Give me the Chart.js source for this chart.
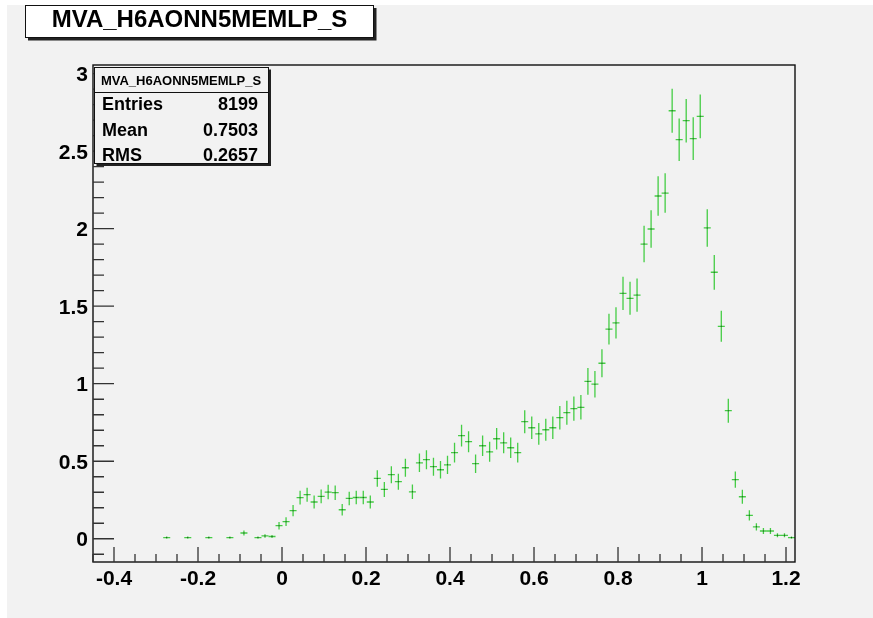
<!DOCTYPE html>
<html>
<head>
<meta charset="utf-8">
<title>MVA_H6AONN5MEMLP_S</title>
<script src="https://cdn.jsdelivr.net/npm/chart.js@4/dist/chart.umd.min.js"></script>
<style>
  html, body { margin: 0; padding: 0; background: #fff; }
  canvas { display: block; }
</style>
</head>
<body>
<canvas id="hist" width="873" height="618"></canvas>
<script>
const histName = 'MVA_H6AONN5MEMLP_S'

// histogram binning
const nBins = 100
const xLow = -0.45
const xHigh = 1.2214
const yLow = -0.15
const yHigh = 3.056

// normalised bin contents, bin 0 .. 99
const binValues = [
  0, 0, 0, 0, 0, 0, 0, 0, 0, 0,
  0.0073, 0, 0, 0.0073, 0, 0, 0.0073, 0, 0, 0.0073,
  0, 0.037, 0, 0.0073, 0.018, 0.0146, 0.084, 0.11, 0.181, 0.265,
  0.284, 0.237, 0.273, 0.301, 0.297, 0.187, 0.26, 0.266, 0.266, 0.237,
  0.389, 0.318, 0.413, 0.368, 0.458, 0.303, 0.49, 0.51, 0.465, 0.445,
  0.477, 0.555, 0.665, 0.626, 0.484, 0.6, 0.561, 0.645, 0.619, 0.587,
  0.555, 0.755, 0.716, 0.677, 0.703, 0.716, 0.781, 0.813, 0.839, 0.848,
  1.015, 0.997, 1.132, 1.352, 1.392, 1.583, 1.551, 1.572, 1.901, 1.998,
  2.211, 2.23, 2.761, 2.574, 2.697, 2.581, 2.725, 2.005, 1.719, 1.37,
  0.826, 0.381, 0.271, 0.151, 0.077, 0.05, 0.05, 0.022, 0.022, 0.0073
]

const entries = 8199
const statLabels = ['Entries', 'Mean', 'RMS']
const statValues = ['8199', '0.7503', '0.2657']

const xTicks = [-0.4, -0.2, 0, 0.2, 0.4, 0.6, 0.8, 1, 1.2]
const xTickLabels = ['-0.4', '-0.2', '0', '0.2', '0.4', '0.6', '0.8', '1', '1.2']
const yTicks = [0, 0.5, 1, 1.5, 2, 2.5, 3]
const yTickLabels = ['0', '0.5', '1', '1.5', '2', '2.5', '3']

const binWidth = (xHigh - xLow) / nBins

// only filled bins get a point; error = sqrt(n) scaled like the contents
const points = []
binValues.forEach((v, i) => {
  if (v <= 0) return
  points.push({
    x: xLow + binWidth * (i + 0.5),
    y: v,
    err: Math.sqrt(v / (entries * binWidth))
  })
})

const FONT = '"Liberation Sans", Arial, Helvetica, sans-serif'
const GREEN = '#45cd45'

const rootPad = {
  id: 'rootPad',
  beforeDraw(chart) {
    const ctx = chart.ctx
    ctx.save()
    ctx.fillStyle = '#ffffff'
    ctx.fillRect(0, 0, chart.width, chart.height)
    ctx.fillStyle = '#f2f2f2'
    ctx.fillRect(7, 5, chart.width - 7, chart.height - 5)
    ctx.restore()
  },
  beforeDatasetsDraw(chart) {
    const ctx = chart.ctx
    const xs = chart.scales.x
    const ys = chart.scales.y
    const area = chart.chartArea
    ctx.save()
    ctx.beginPath()
    ctx.rect(area.left, area.top, area.right - area.left, area.bottom - area.top)
    ctx.clip()
    ctx.strokeStyle = GREEN
    ctx.lineWidth = 1.3
    points.forEach(p => {
      const px = xs.getPixelForValue(p.x)
      const py = ys.getPixelForValue(p.y)
      const x0 = xs.getPixelForValue(p.x - binWidth / 2)
      const x1 = xs.getPixelForValue(p.x + binWidth / 2)
      const y0 = ys.getPixelForValue(p.y - p.err)
      const y1 = ys.getPixelForValue(p.y + p.err)
      ctx.beginPath()
      ctx.moveTo(x0, py)
      ctx.lineTo(x1, py)
      ctx.moveTo(px, y0)
      ctx.lineTo(px, y1)
      ctx.stroke()
    })
    ctx.restore()
  },
  afterDraw(chart) {
    const ctx = chart.ctx
    const xs = chart.scales.x
    const ys = chart.scales.y
    const a = chart.chartArea
    ctx.save()

    // frame
    ctx.strokeStyle = '#111'
    ctx.lineWidth = 1.4
    ctx.strokeRect(a.left, a.top, a.right - a.left, a.bottom - a.top)

    // ticks, drawn inside the frame
    ctx.strokeStyle = '#333'
    ctx.lineWidth = 1.3
    ctx.beginPath()
    for (let k = -1; k <= 30; k++) {
      const v = k / 10
      const py = ys.getPixelForValue(v)
      if (py < a.top || py > a.bottom) continue
      const len = k % 5 === 0 ? 21 : 11
      ctx.moveTo(a.left, py)
      ctx.lineTo(a.left + len, py)
    }
    for (let k = -9; k <= 24; k++) {
      const v = k / 20
      const px = xs.getPixelForValue(v)
      if (px < a.left - 0.5 || px > a.right) continue
      const len = k % 4 === 0 ? 15 : 8
      ctx.moveTo(px, a.bottom)
      ctx.lineTo(px, a.bottom - len)
    }
    ctx.stroke()

    // tick labels
    ctx.fillStyle = '#000'
    ctx.font = 'bold 21px ' + FONT
    ctx.textBaseline = 'alphabetic'
    ctx.textAlign = 'right'
    yTicks.forEach((v, i) => {
      ctx.fillText(yTickLabels[i], 88, ys.getPixelForValue(v) + 7.6)
    })
    ctx.textAlign = 'center'
    xTicks.forEach((v, i) => {
      ctx.fillText(xTickLabels[i], xs.getPixelForValue(v), 585)
    })

    // title box
    ctx.fillStyle = '#222'
    ctx.fillRect(28, 8, 348.5, 32.5)
    ctx.fillStyle = '#ffffff'
    ctx.fillRect(25, 5, 348.5, 32.5)
    ctx.strokeStyle = '#111'
    ctx.lineWidth = 1
    ctx.strokeRect(25.5, 5.5, 348, 32)
    ctx.fillStyle = '#000'
    ctx.font = 'bold 24px ' + FONT
    ctx.textAlign = 'center'
    ctx.textBaseline = 'alphabetic'
    ctx.fillText(histName, 199.5, 27.3)

    // statistics box
    ctx.fillStyle = '#222'
    ctx.fillRect(96.5, 69.5, 174.5, 96.5)
    ctx.fillStyle = '#f2f2f2'
    ctx.fillRect(94.5, 67.5, 174, 96)
    ctx.strokeStyle = '#111'
    ctx.strokeRect(94.5, 67.5, 174, 96)
    ctx.beginPath()
    ctx.moveTo(94.5, 92.5)
    ctx.lineTo(268.5, 92.5)
    ctx.stroke()
    ctx.fillStyle = '#000'
    ctx.font = 'bold 13px ' + FONT
    ctx.fillText(histName, 181, 84.5)
    ctx.font = 'bold 18px ' + FONT
    const baselines = [110, 135.5, 161]
    statLabels.forEach((lab, i) => {
      ctx.textAlign = 'left'
      ctx.fillText(lab, 102, baselines[i])
      ctx.textAlign = 'right'
      ctx.fillText(statValues[i], 258, baselines[i])
    })

    ctx.restore()
  }
}

new Chart(document.getElementById('hist'), {
  type: 'scatter',
  data: {
    datasets: [{
      label: histName,
      data: points,
      pointRadius: 0.7,
      pointHoverRadius: 0.7,
      pointStyle: 'rect',
      pointBackgroundColor: '#1e3a1e',
      pointBorderWidth: 0
    }]
  },
  options: {
    responsive: false,
    animation: false,
    events: [],
    layout: { padding: { left: 93, top: 65, right: 78, bottom: 56 } },
    plugins: {
      legend: { display: false },
      tooltip: { enabled: false }
    },
    scales: {
      x: { type: 'linear', min: xLow, max: xHigh, display: false },
      y: { type: 'linear', min: yLow, max: yHigh, display: false }
    }
  },
  plugins: [rootPad]
})
</script>
</body>
</html>
